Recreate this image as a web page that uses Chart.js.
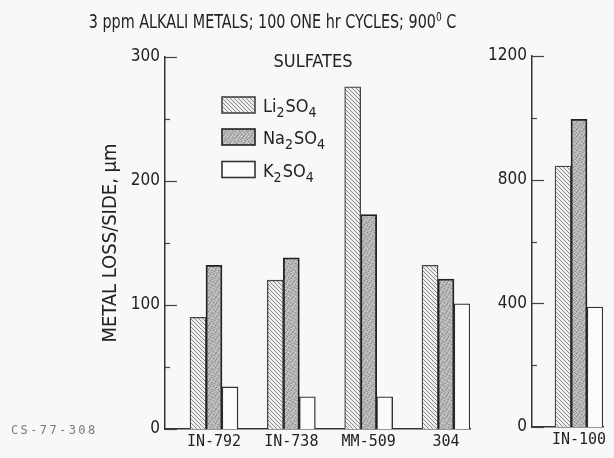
<!DOCTYPE html>
<html><head><meta charset="utf-8">
<script src="https://cdn.jsdelivr.net/npm/chart.js@4.4.1/dist/chart.umd.min.js"></script>
<style>
html,body{margin:0;padding:0;background:#f8f8f6;}
#wrap{position:relative;width:614px;height:458px;overflow:hidden;background:#f8f8f6;}
canvas{position:absolute;top:0;}
.t{position:absolute;color:#222;font-family:'Liberation Sans Narrow','DejaVu Sans Condensed','Arial Narrow',sans-serif;white-space:nowrap;line-height:1;}
</style></head><body>
<div id="wrap">
<canvas id="c1" width="490" height="458" style="left:0px"></canvas>
<canvas id="c2" width="134" height="458" style="left:480px"></canvas>
<div class="t" style="left:0;width:545px;text-align:center;top:12px;font-size:19px;transform:scaleX(0.84);transform-origin:272.5px 0">3 ppm ALKALI METALS; 100 ONE hr CYCLES; 900<span style="font-size:12px;position:relative;top:-7px">0</span> C</div>
<div class="t" style="left:263px;width:100px;text-align:center;top:52px;font-size:18px">SULFATES</div>
<div class="t" style="left:11px;top:424px;font-size:12px;color:#7a7a7a;font-family:'DejaVu Sans Mono',monospace;letter-spacing:2.4px">CS-77-308</div>
</div>
<script>
// ---- data ----
const categories = ['IN-792', 'IN-738', 'MM-509', '304'];
const li2so4 = [90, 120, 276, 132];
const na2so4 = [132, 138, 173, 121];
const k2so4 = [34, 26, 26, 101];
const categories2 = ['IN-100'];
const li2so4_2 = [844];
const na2so4_2 = [995];
const k2so4_2 = [388];
const leftTickLabels = [0, 100, 200, 300];
const rightTickLabels = [0, 400, 800, 1200];
const seriesNames = [['Li', '2', 'SO', '4'], ['Na', '2', 'SO', '4'], ['K', '2', 'SO', '4']];

const SANS = "'Liberation Sans Narrow','DejaVu Sans Condensed','Arial Narrow',sans-serif";
const MONO = "'DejaVu Sans Mono','Liberation Mono',monospace";
Chart.defaults.font.family = SANS;
Chart.defaults.color = '#222';

// ---- patterns ----
function hatchPattern() {
  const c = document.createElement('canvas'); c.width = 4; c.height = 4;
  const g = c.getContext('2d');
  g.fillStyle = '#ededeb'; g.fillRect(0, 0, 4, 4);
  g.strokeStyle = '#8c8c8c'; g.lineWidth = 1;
  g.beginPath();
  for (let k = -4; k <= 4; k += 4) { g.moveTo(k, 0); g.lineTo(k + 4, 4); }
  g.stroke();
  return g.createPattern(c, 'repeat');
}
function stipplePattern() {
  const c = document.createElement('canvas'); c.width = 7; c.height = 7;
  const g = c.getContext('2d');
  g.fillStyle = '#b4b4b2'; g.fillRect(0, 0, 7, 7);
  const dark = [[0,0],[3,1],[6,2],[1,4],[4,5],[2,6],[5,3]];
  const light = [[2,0],[5,1],[0,3],[3,3],[1,2],[4,6],[6,5]];
  g.fillStyle = '#8a8a88'; dark.forEach(p => g.fillRect(p[0], p[1], 1, 1));
  g.fillStyle = '#d2d2d0'; light.forEach(p => g.fillRect(p[0], p[1], 1, 1));
  return g.createPattern(c, 'repeat');
}
const fills = [hatchPattern(), stipplePattern(), '#fbfbfa'];
const borders = ['#444', '#222', '#333'];
const bw = [1.3, 1.8, 1.4];

// tick marks drawn inward using the scale
const tickMarks = {
  id: 'tickMarks',
  afterDraw(chart, args, opts) {
    const y = chart.scales.y, ctx = chart.ctx, a = chart.chartArea;
    ctx.save(); ctx.strokeStyle = '#444'; ctx.lineWidth = 1.2;
    y.ticks.forEach(t => {
      const py = Math.round(y.getPixelForValue(t.value)) + 0.5;
      const len = (t.value % opts.major === 0) ? 12 : 5;
      ctx.beginPath(); ctx.moveTo(a.left, py); ctx.lineTo(a.left + len, py); ctx.stroke();
    });
    ctx.restore();
  }
};

const legendPlugin = {
  id: 'boxLegend',
  afterDraw(chart) {
    const ctx = chart.ctx;
    const tops = [97, 129, 161.5];
    ctx.save();
    tops.forEach((top, i) => {
      ctx.fillStyle = fills[i];
      ctx.fillRect(222, top, 33, 16);
      ctx.strokeStyle = borders[i]; ctx.lineWidth = 1.6;
      ctx.strokeRect(222, top, 33, 16);
      let x = 263; const base = top + 15;
      ctx.fillStyle = '#222'; ctx.textBaseline = 'alphabetic'; ctx.textAlign = 'left';
      seriesNames[i].forEach((part, j) => {
        const sub = j % 2 === 1;
        ctx.font = (sub ? '14px ' : '18px ') + SANS;
        ctx.fillText(part, x, base + (sub ? 5 : 0));
        x += ctx.measureText(part).width + (sub ? 1 : 0);
      });
    });
    ctx.restore();
  }
};

function ds(label, vals, i) {
  return {
    label: label,
    data: vals.map((v, k) => ({ x: k, y: v })),
    backgroundColor: fills[i], borderColor: borders[i], borderWidth: bw[i],
    barThickness: 16, borderSkipped: 'start'
  };
}

function makeChart(id, cats, L, N, K, cfg) {
  return new Chart(document.getElementById(id), {
    type: 'bar',
    data: { datasets: [ds('Li2SO4', L, 0), ds('Na2SO4', N, 1), ds('K2SO4', K, 2)] },
    options: {
      responsive: false, animation: false, devicePixelRatio: 1,
      layout: { padding: cfg.padding },
      plugins: { legend: { display: false }, tooltip: { enabled: false }, tickMarks: { major: cfg.major } },
      scales: {
        x: {
          type: 'linear', min: cfg.xmin, max: cfg.xmax, offset: false,
          afterBuildTicks: s => { s.ticks = cats.map((c, i) => ({ value: i })); },
          afterFit: s => { s.height = cfg.xh; },
          grid: { display: false, drawTicks: false, offset: false },
          border: { display: true, color: '#333', width: 1.5 },
          ticks: { autoSkip: false, maxRotation: 0, padding: 4, color: '#222',
                   font: { family: MONO, size: 15 }, callback: v => cats[v] }
        },
        y: {
          min: 0, max: cfg.ymax,
          afterFit: s => { s.width = cfg.yw; },
          grid: { display: false, drawTicks: false },
          border: { display: true, color: '#333', width: 1.5 },
          ticks: { stepSize: cfg.minor, padding: 5, color: '#222', font: { size: 17 },
                   callback: v => cfg.labels.includes(v) ? String(v) : '' },
          title: cfg.ytitle ? { display: true, text: cfg.ytitle, color: '#222',
                   font: { size: 20 }, padding: { top: 99, bottom: 0 } } : { display: false }
        }
      }
    },
    plugins: cfg.legend ? [tickMarks, legendPlugin] : [tickMarks]
  });
}

makeChart('c1', categories, li2so4, na2so4, k2so4, {
  padding: { left: 0, top: 57, right: 20, bottom: 0 }, xh: 29, yw: 165,
  xmin: -0.6336, xmax: 3.3103, ymax: 300, minor: 50, major: 100,
  labels: leftTickLabels, ytitle: 'METAL LOSS/SIDE, μm', legend: true
});
makeChart('c2', categories2, li2so4_2, na2so4_2, k2so4_2, {
  padding: { left: 0, top: 56, right: 11, bottom: 0 }, xh: 31, yw: 52,
  xmin: -0.662, xmax: 0.338, ymax: 1200, minor: 200, major: 400,
  labels: rightTickLabels, ytitle: null, legend: false
});
</script>
</body></html>
